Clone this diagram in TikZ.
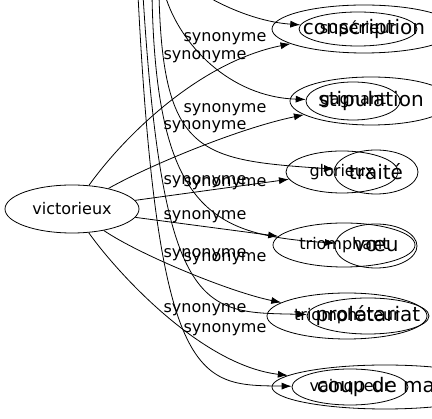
\documentclass[tikz,border=0pt]{standalone}
\usepackage{fontspec}
\setmainfont{DejaVu Sans}
\usepackage{tikz}
\usetikzlibrary{arrows.meta}
\usetikzlibrary{shapes.geometric}

\begin{document}
\begin{tikzpicture}[x=1pt, y=-1pt,
  word/.style={ellipse, draw=black, line width=0.8pt, inner sep=0pt, font=\fontsize{16}{19}\selectfont},
  bigword/.style={word, font=\fontsize{20}{24}\selectfont},
  synlabel/.style={anchor=base, inner sep=0pt, font=\fontsize{16}{19}\selectfont},
  synarrow/.style={-{Latex[length=10pt, width=7pt]}, draw=black, line width=0.8pt}]
 \useasboundingbox (0, 0) rectangle (432, 419);

 \node [word, minimum width=134, minimum height=48] (V) at (72, 209) {victorieux};

 % right column, two ellipses on each row
 \node [word, minimum width=118, minimum height=34] (S) at (358, 29) {supérieur};
 \node [bigword, minimum width=184, minimum height=48] (C) at (364, 29) {conscription};
 \node [word, minimum width=94, minimum height=38] (G) at (353, 101) {gagnant};
 \node [bigword, minimum width=162, minimum height=48] (St) at (371, 101) {stipulation};
 \node [word, minimum width=112, minimum height=42] (Gl) at (342, 172) {glorieux};
 \node [bigword, minimum width=84, minimum height=44] (T) at (376, 172) {traité};
 \node [word, minimum width=142, minimum height=44] (Tp) at (344, 245) {triomphant};
 \node [bigword, minimum width=82, minimum height=44] (Vu) at (376, 246) {vœu};
 \node [word, minimum width=160, minimum height=46] (Tu) at (347, 316) {triomphateur};
 \node [bigword, minimum width=122, minimum height=36] (Pr) at (368, 316) {\makebox[0pt]{prolétariat}};
 \node [word, minimum width=116, minimum height=36] (Vq) at (350, 387) {vainqueur};
 \node [bigword, minimum width=226, minimum height=44] (Cm) at (385, 387) {coup de main};

 % edges leaving victorieux
 \draw [synarrow] (V) .. controls (125, 135) and (200, 62) .. (C);
 \draw [synarrow] (V) .. controls (150, 165) and (240, 128) .. (St);
 \draw [synarrow] (V) -- (Gl);
 \draw [synarrow] (V) -- (Tp);
 \draw [synarrow] (V) .. controls (140, 255) and (230, 292) .. (Tu);
 \draw [synarrow] (V) .. controls (115, 270) and (200, 365) .. (Cm);

 % edges coming in from above the picture
 \coordinate (s1) at (200, -8);
 \coordinate (s2) at (165, -5);
 \coordinate (s3) at (159, -5);
 \coordinate (s4) at (152, -5);
 \coordinate (s5) at (143, -5);
 \coordinate (s6) at (138, -5);
 \draw [synarrow] (s1) .. controls (225, 8) and (260, 22) .. (S);
 \draw [synarrow] (s2) .. controls (180, 45) and (230, 97) .. (G);
 \draw [synarrow] (s3) .. controls (163, 155) and (200, 160) .. (T);
 \draw [synarrow] (s4) .. controls (156, 215) and (215, 235) .. (Vu);
 \draw [synarrow] (s5) .. controls (163, 320) and (205, 312) .. (Pr);
 \draw [synarrow] (s6) .. controls (158, 390) and (200, 385) .. (Vq);

 % edge labels
 \node [synlabel] (l1) at (225, 42) {synonyme};
 \node [synlabel] (l2) at (205, 60) {synonyme};
 \node [synlabel] (l3) at (225, 113) {synonyme};
 \node [synlabel] (l4) at (205, 130) {synonyme};
 \node [synlabel] (l5) at (205, 185) {synonyme};
 \node [synlabel] (l6) at (225, 187) {synonyme};
 \node [synlabel] (l7) at (205, 220) {synonyme};
 \node [synlabel] (l8) at (205, 258) {synonyme};
 \node [synlabel] (l9) at (225, 262) {synonyme};
 \node [synlabel] (l10) at (205, 313) {synonyme};
 \node [synlabel] (l11) at (225, 333) {synonyme};
\end{tikzpicture}
\end{document}
